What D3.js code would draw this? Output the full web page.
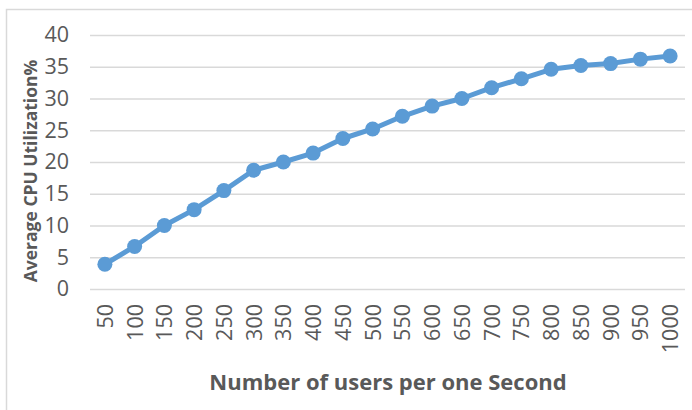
<!DOCTYPE html>
<html>
<head>
<meta charset="utf-8">
<script src="https://cdn.jsdelivr.net/npm/d3@7"></script>
<style>
  html, body { margin: 0; padding: 0; background: #fff; }
  svg { display: block; }
</style>
</head>
<body>
<div id="chart"></div>
<script>
// Users per second (categories) and measured average CPU utilization (%)
const users = ["50","100","150","200","250","300","350","400","450","500",
               "550","600","650","700","750","800","850","900","950","1000"];
const cpu = [3.9, 6.7, 10.0, 12.5, 15.5, 18.7, 20.0, 21.4, 23.7, 25.2,
             27.2, 28.8, 30.0, 31.7, 33.1, 34.6, 35.2, 35.5, 36.2, 36.7];
const yTicks = [0, 5, 10, 15, 20, 25, 30, 35, 40];

const W = 692, H = 410;
const plot = { left: 90, right: 685, top: 35, bottom: 289 };
const font = "'Open Sans', 'Liberation Sans', sans-serif";
const textColor = "#595959";
const gridColor = "#d9d9d9";
const lineColor = "#5b9bd5";

const svg = d3.select("#chart").append("svg")
  .attr("width", W).attr("height", H)
  .style("font-family", font);

// chart area frame (left and top edges)
svg.append("path")
  .attr("d", `M6.5,${H} V9.5 H${W}`)
  .attr("fill", "none")
  .attr("stroke", gridColor)
  .attr("stroke-width", 1.5);

const x = d3.scalePoint().domain(users).range([plot.left, plot.right]).padding(0.5);
const y = d3.scaleLinear().domain([0, 40]).range([plot.bottom, plot.top]);

// horizontal gridlines with value labels
const yAxis = d3.axisLeft(y).tickValues(yTicks)
  .tickSize(-(plot.right - plot.left)).tickPadding(21).tickFormat(d3.format("d"));
const gy = svg.append("g").attr("transform", `translate(${plot.left},0)`).call(yAxis);
gy.select(".domain").remove();
gy.selectAll(".tick line").attr("stroke", gridColor).attr("stroke-width", 1.4);
gy.selectAll(".tick text")
  .attr("fill", textColor)
  .style("font-size", "21.5px")
  .style("font-family", font);

// category labels, rotated
const xAxis = d3.axisBottom(x).tickSize(0).tickPadding(0);
const gx = svg.append("g").attr("transform", `translate(0,${plot.bottom})`).call(xAxis);
gx.select(".domain").remove();
gx.selectAll(".tick text")
  .attr("fill", textColor)
  .style("font-size", "21.5px")
  .style("font-family", font)
  .attr("text-anchor", "end")
  .attr("transform", "translate(0,15) rotate(-90)")
  .attr("x", 0).attr("y", 0).attr("dy", "0.35em");

// data line and markers
const line = d3.line().x((d, i) => x(users[i])).y(d => y(d));
svg.append("path")
  .datum(cpu)
  .attr("d", line)
  .attr("fill", "none")
  .attr("stroke", lineColor)
  .attr("stroke-width", 5)
  .attr("stroke-linejoin", "round");

svg.append("g").selectAll("circle")
  .data(cpu)
  .join("circle")
  .attr("cx", (d, i) => x(users[i]))
  .attr("cy", d => y(d))
  .attr("r", 7.5)
  .attr("fill", lineColor);

// axis titles
svg.append("text")
  .attr("transform", "translate(37,171) rotate(-90)")
  .attr("text-anchor", "middle")
  .attr("fill", textColor)
  .style("font-size", "17.5px")
  .style("font-weight", "bold")
  .text("Average CPU Utilization%");

svg.append("text")
  .attr("x", 388).attr("y", 390)
  .attr("text-anchor", "middle")
  .attr("fill", textColor)
  .style("font-size", "22px")
  .style("font-weight", "bold")
  .text("Number of users per one Second");
</script>
</body>
</html>
